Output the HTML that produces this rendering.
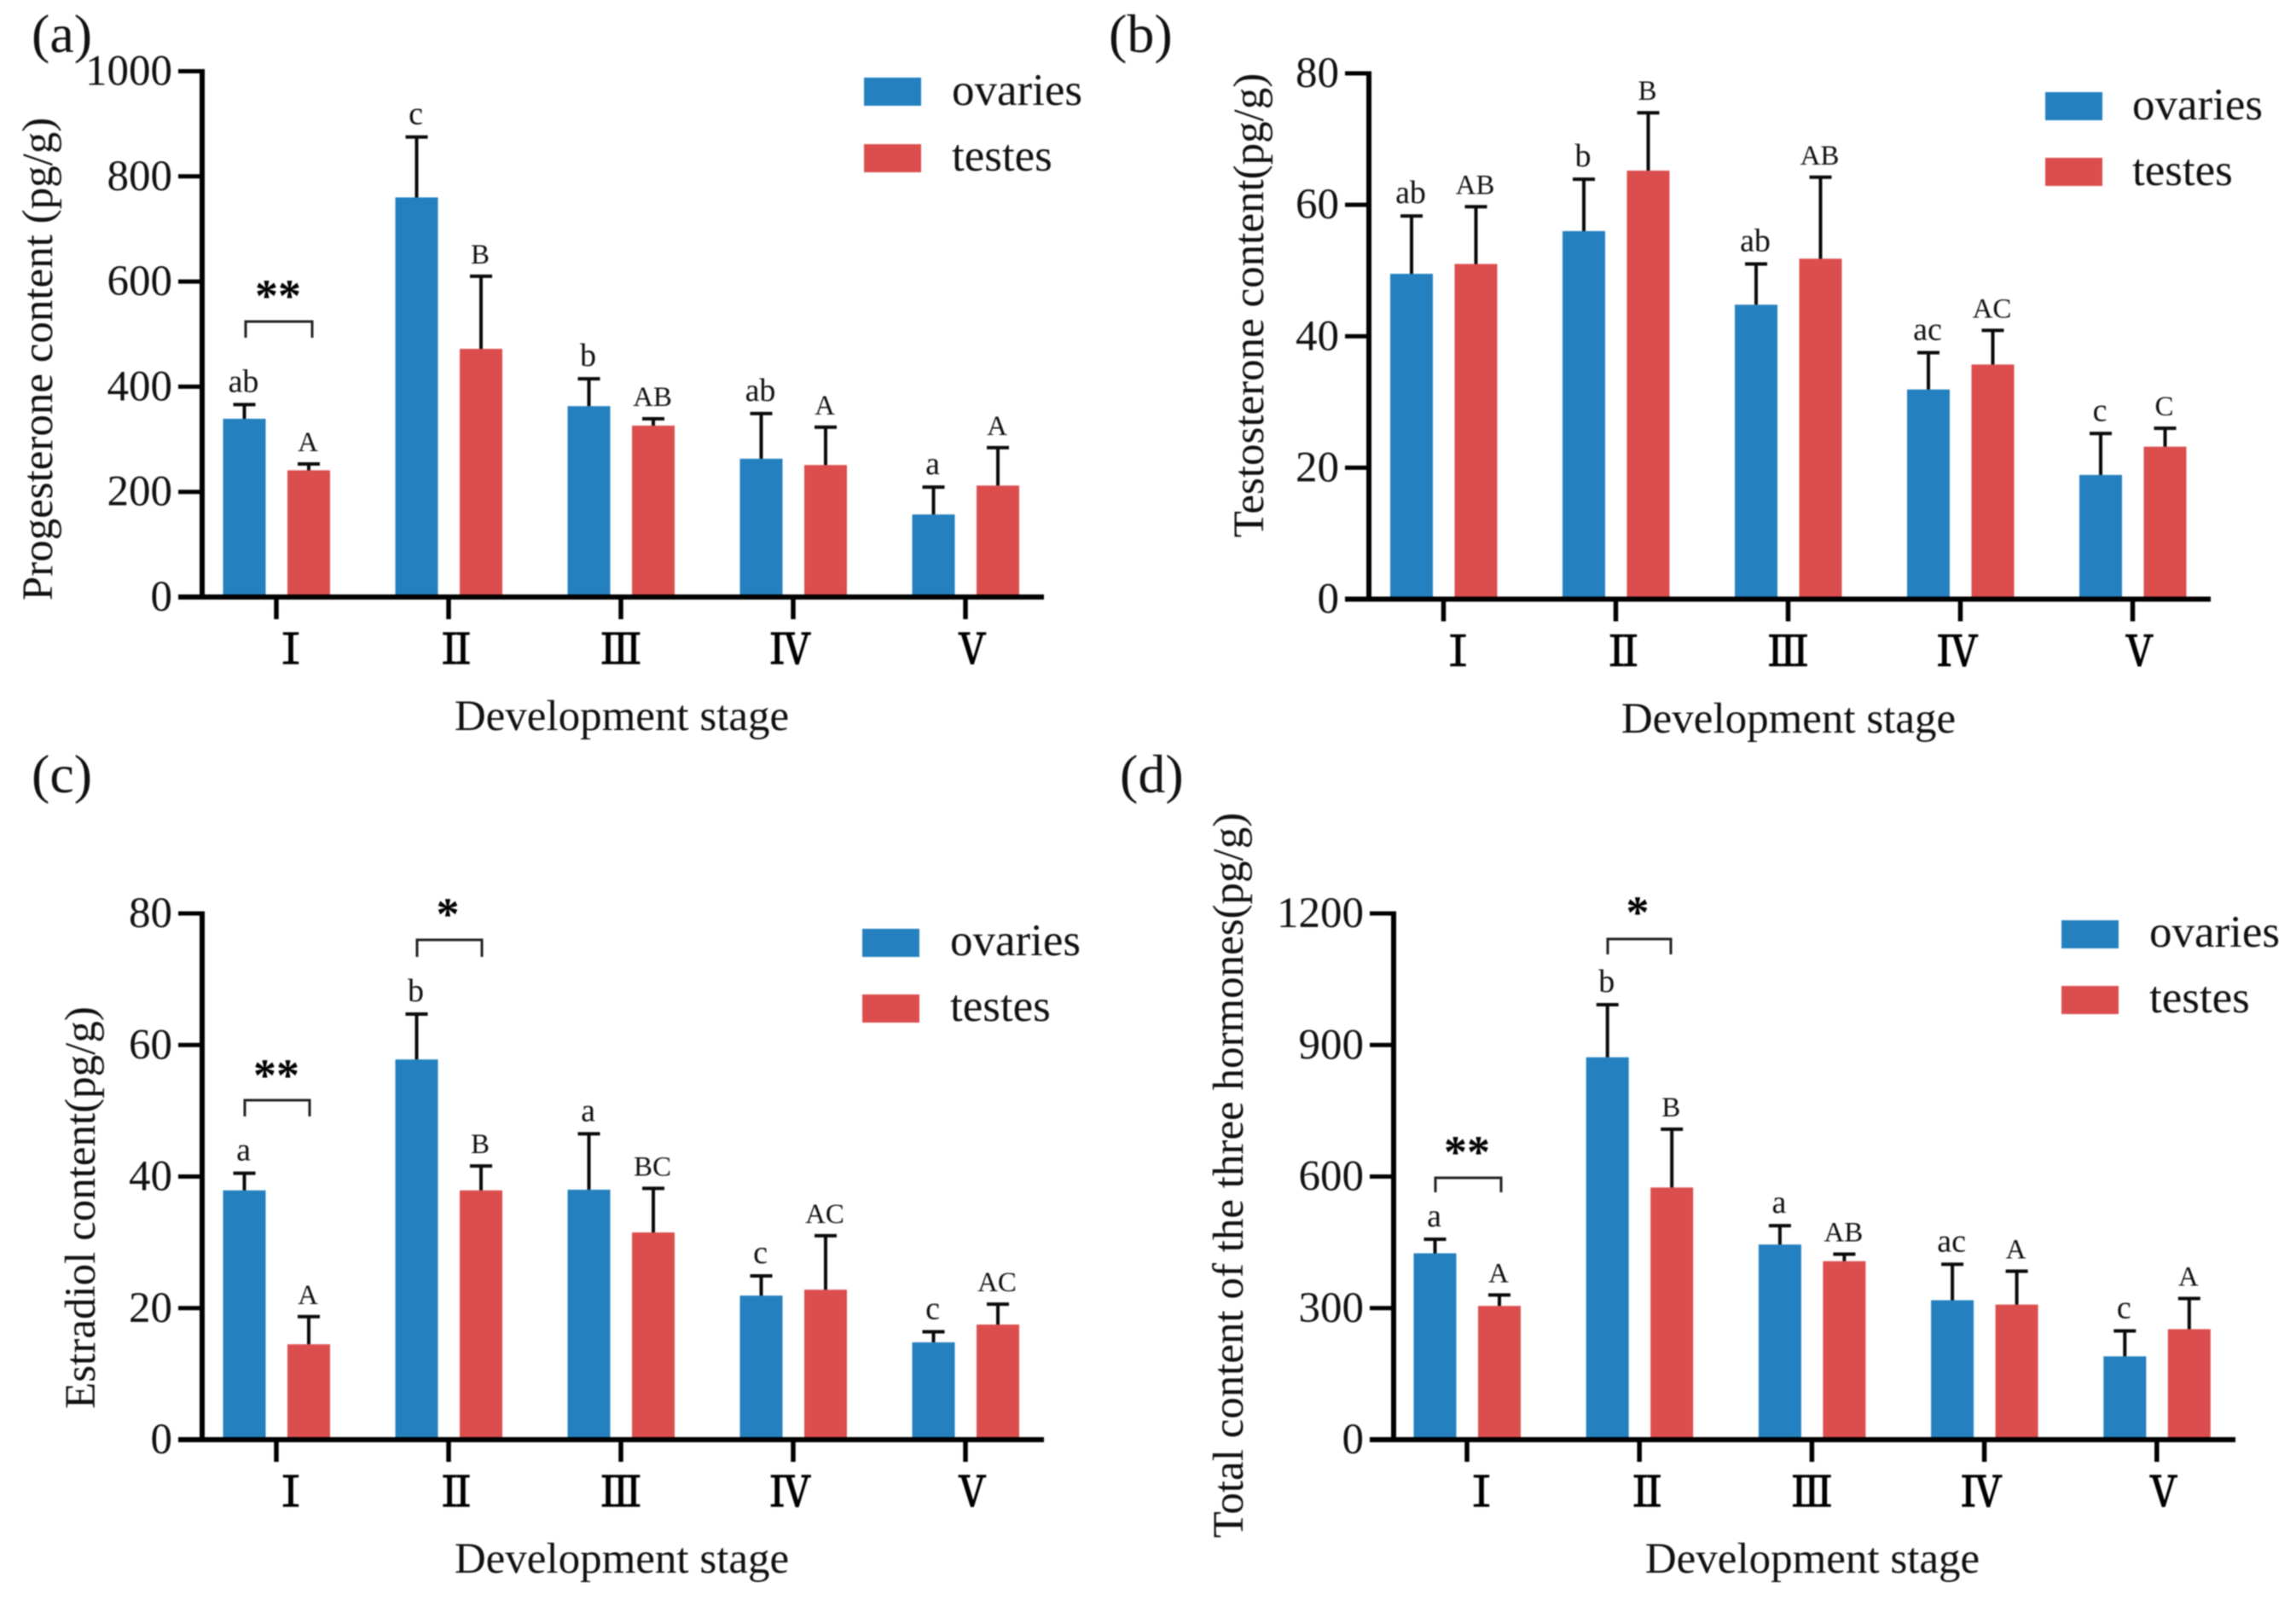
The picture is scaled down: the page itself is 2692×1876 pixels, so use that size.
<!DOCTYPE html>
<html lang="en">
<head>
<meta charset="utf-8">
<title>Hormone content by development stage</title>
<style>
html,body{margin:0;padding:0;background:#fff;}
svg{display:block;filter:blur(0.7px);}
text{font-family:"Liberation Serif","Noto Serif CJK SC",serif;fill:#111;}
.title{font-size:51px;}
.legend{font-size:53px;}
.panel{font-size:64px;}
.stars{font-size:54px;font-weight:bold;fill:#000;text-anchor:middle;}
.bracket{fill:none;stroke:#222;stroke-width:3;}
</style>
</head>
<body>
<svg id="figure" xmlns="http://www.w3.org/2000/svg" width="2692" height="1876" viewBox="0 0 2692 1876">
  <rect width="2692" height="1876" fill="#fff"/>

  <g id="panel-a">
    <text class="panel" x="37" y="61">(a)</text>
    <text class="title" text-anchor="middle" transform="translate(61 421) rotate(-90)">Progesterone content (pg/g)</text>
    <text class="title" text-anchor="middle" x="729" y="856">Development stage</text>
    <rect x="1013" y="91" width="67" height="33" fill="#2480BE"/>
    <text class="legend" x="1116" y="123">ovaries</text>
    <rect x="1013" y="169" width="67" height="33" fill="#DC4E4E"/>
    <text class="legend" x="1116" y="200">testes</text>
    <path class="bracket" d="M288 396V377H366V396"/>
    <text class="stars" x="326" y="365">**</text>
  </g>

  <g id="panel-b">
    <text class="panel" x="1300" y="61">(b)</text>
    <text class="title" text-anchor="middle" transform="translate(1481 358) rotate(-90)">Testosterone content(pg/g)</text>
    <text class="title" text-anchor="middle" x="2097" y="859">Development stage</text>
    <rect x="2398" y="108" width="67" height="33" fill="#2480BE"/>
    <text class="legend" x="2500" y="140">ovaries</text>
    <rect x="2398" y="185" width="67" height="33" fill="#DC4E4E"/>
    <text class="legend" x="2500" y="217">testes</text>
  </g>

  <g id="panel-c">
    <text class="panel" x="37" y="929">(c)</text>
    <text class="title" text-anchor="middle" transform="translate(111 1416) rotate(-90)">Estradiol content(pg/g)</text>
    <text class="title" text-anchor="middle" x="729" y="1844">Development stage</text>
    <rect x="1011" y="1089" width="67" height="33" fill="#2480BE"/>
    <text class="legend" x="1114" y="1120">ovaries</text>
    <rect x="1011" y="1166" width="67" height="33" fill="#DC4E4E"/>
    <text class="legend" x="1114" y="1197">testes</text>
    <path class="bracket" d="M287 1309V1290H363V1309"/>
    <text class="stars" x="324" y="1279">**</text>
    <path class="bracket" d="M489 1122V1102H565V1122"/>
    <text class="stars" x="525" y="1090">*</text>
  </g>

  <g id="panel-d">
    <text class="panel" x="1313" y="929">(d)</text>
    <text class="title" text-anchor="middle" transform="translate(1457 1378) rotate(-90)">Total content of the three hormones(pg/g)</text>
    <text class="title" text-anchor="middle" x="2125" y="1844">Development stage</text>
    <rect x="2417" y="1079" width="67" height="33" fill="#2480BE"/>
    <text class="legend" x="2520" y="1110">ovaries</text>
    <rect x="2417" y="1156" width="67" height="33" fill="#DC4E4E"/>
    <text class="legend" x="2520" y="1187">testes</text>
    <path class="bracket" d="M1683 1398V1381H1760V1398"/>
    <text class="stars" x="1720" y="1369">**</text>
    <path class="bracket" d="M1885 1119V1101H1959V1119"/>
    <text class="stars" x="1920" y="1088">*</text>
  </g>
</svg>

<script>
// Shared categories
const categories = ['Ⅰ', 'Ⅱ', 'Ⅲ', 'Ⅳ', 'Ⅴ'];

// Panel (a) progesterone
const ticksA = [0, 200, 400, 600, 800, 1000];
const ovariesA = [339, 760, 363, 263, 157];
const ovariesTopA = [366, 875, 415, 349, 209];
const testesA = [241, 472, 326, 251, 212];
const testesTopA = [253, 610, 339, 323, 284];
const ovariesLettersA = ['ab', 'c', 'b', 'ab', 'a'];
const testesLettersA = ['A', 'B', 'AB', 'A', 'A'];

// Panel (b) testosterone
const ticksB = [0, 20, 40, 60, 80];
const ovariesB = [49.5, 56.0, 44.8, 31.9, 18.9];
const ovariesTopB = [58.3, 63.9, 51.0, 37.5, 25.2];
const testesB = [51.0, 65.2, 51.8, 35.7, 23.2];
const testesTopB = [59.7, 74.0, 64.2, 40.9, 26.0];
const ovariesLettersB = ['ab', 'b', 'ab', 'ac', 'c'];
const testesLettersB = ['AB', 'B', 'AB', 'AC', 'C'];

// Panel (c) estradiol
const ticksC = [0, 20, 40, 60, 80];
const ovariesC = [37.9, 57.8, 38.0, 21.9, 14.8];
const ovariesTopC = [40.5, 64.7, 46.5, 24.9, 16.4];
const testesC = [14.5, 37.9, 31.5, 22.8, 17.5];
const testesTopC = [18.7, 41.6, 38.2, 31.0, 20.6];
const ovariesLettersC = ['a', 'b', 'a', 'c', 'c'];
const testesLettersC = ['A', 'B', 'BC', 'AC', 'AC'];

// Panel (d) total of the three hormones
const ticksD = [0, 300, 600, 900, 1200];
const ovariesD = [425, 872, 445, 318, 190];
const ovariesTopD = [457, 992, 488, 400, 248];
const testesD = [305, 575, 407, 308, 252];
const testesTopD = [330, 708, 423, 384, 322];
const ovariesLettersD = ['a', 'b', 'a', 'ac', 'c'];
const testesLettersD = ['A', 'B', 'AB', 'A', 'A'];

const SVG_NS = 'http://www.w3.org/2000/svg';
const BLUE = '#2480BE';
const RED = '#DC4E4E';
const INK = '#0a0a0a';

function make(parent, tag, attrs) {
  const node = document.createElementNS(SVG_NS, tag);
  for (const key in attrs) node.setAttribute(key, attrs[key]);
  parent.appendChild(node);
  return node;
}

function drawSeries(root, key, seriesName, color, dx, values, tops, letters, xAt, yAt) {
  values.forEach(function (value, i) {
    const cx = xAt(i) + dx;
    const bar = make(root, 'rect', {x: cx - 25, y: yAt(value), width: 50, height: yAt(0) - yAt(value), fill: color});
    
    

    const stem = make(root, 'line', {x1: cx, x2: cx, y1: yAt(value), y2: yAt(tops[i]), stroke: INK, 'stroke-width': 4});
    
    

    const cap = make(root, 'line', {x1: cx - 13, x2: cx + 13, y1: yAt(tops[i]), y2: yAt(tops[i]), stroke: INK, 'stroke-width': 4});
    
    

    const isUpper = /[A-Z]/.test(letters[i]);
    const letter = make(root, 'text', {x: cx - 1, y: yAt(tops[i]) - 15, 'text-anchor': 'middle', 'font-size': isUpper ? 33 : 38});
    letter.textContent = letters[i];
    
    
  });
}

function drawPanel(key, p) {
  const root = document.getElementById('panel-' + key);
  const max = p.ticks[p.ticks.length - 1];
  const yAt = function (v) { return p.y0 - (p.y0 - p.yTop) * v / max; };
  const xAt = function (i) { return p.x0 + p.step * i; };
  const labelNudge = [17, 9, 0, -3, 8];

  drawSeries(root, key, 'ovaries', BLUE, -37.5, p.ovaries, p.ovariesTop, p.ovariesLetters, xAt, yAt);
  drawSeries(root, key, 'testes', RED, 38, p.testes, p.testesTop, p.testesLetters, xAt, yAt);

  const yAxis = make(root, 'line', {x1: p.axisX, x2: p.axisX, y1: yAt(max) - 2.5, y2: p.y0 + 3, stroke: '#000', 'stroke-width': 6});
  
  

  const xAxis = make(root, 'line', {x1: p.axisX - 28, x2: p.axisEnd, y1: p.y0, y2: p.y0, stroke: '#000', 'stroke-width': 6});
  
  

  p.ticks.forEach(function (t) {
    const mark = make(root, 'line', {x1: p.axisX - 28, x2: p.axisX, y1: yAt(t), y2: yAt(t), stroke: '#000', 'stroke-width': 5});
    
    

    const label = make(root, 'text', {x: p.axisX - 35, y: yAt(t) + 16, 'text-anchor': 'end', 'font-size': 51});
    label.textContent = String(t);
    
    
  });

  categories.forEach(function (c, i) {
    const mark = make(root, 'line', {x1: xAt(i), x2: xAt(i), y1: p.y0, y2: p.y0 + 26, stroke: '#000', 'stroke-width': 5.5});
    
    

    const label = make(root, 'text', {x: xAt(i) + labelNudge[i], y: p.y0 + 78, 'text-anchor': 'middle', 'font-size': 48, style: 'font-family:"Noto Serif CJK SC",serif;fill:#000;stroke:#000;stroke-width:1.6'});
    label.textContent = c;
    
    
  });
}

drawPanel('a', {axisX: 237, axisEnd: 1224, x0: 324, step: 202, y0: 700, yTop: 83.5, ticks: ticksA,
  ovaries: ovariesA, ovariesTop: ovariesTopA, testes: testesA, testesTop: testesTopA,
  ovariesLetters: ovariesLettersA, testesLetters: testesLettersA});
drawPanel('b', {axisX: 1605, axisEnd: 2592, x0: 1692.5, step: 202, y0: 702.5, yTop: 86, ticks: ticksB,
  ovaries: ovariesB, ovariesTop: ovariesTopB, testes: testesB, testesTop: testesTopB,
  ovariesLetters: ovariesLettersB, testesLetters: testesLettersB});
drawPanel('c', {axisX: 237, axisEnd: 1224, x0: 324, step: 202, y0: 1688, yTop: 1071, ticks: ticksC,
  ovaries: ovariesC, ovariesTop: ovariesTopC, testes: testesC, testesTop: testesTopC,
  ovariesLetters: ovariesLettersC, testesLetters: testesLettersC});
drawPanel('d', {axisX: 1634, axisEnd: 2621, x0: 1720, step: 202.2, y0: 1688, yTop: 1071, ticks: ticksD,
  ovaries: ovariesD, ovariesTop: ovariesTopD, testes: testesD, testesTop: testesTopD,
  ovariesLetters: ovariesLettersD, testesLetters: testesLettersD});
</script>
</body>
</html>
